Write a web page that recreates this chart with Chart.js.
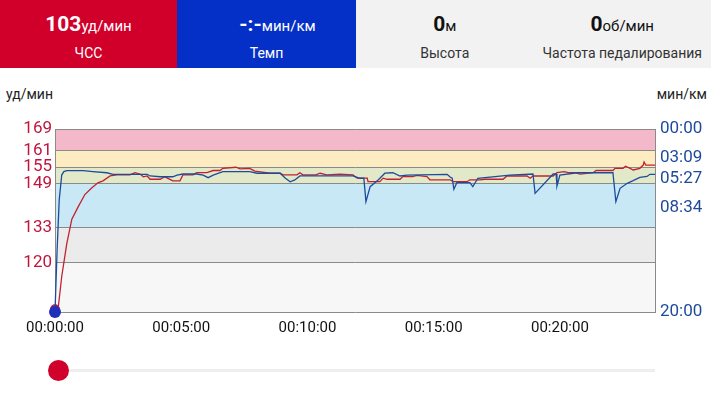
<!DOCTYPE html>
<html>
<head>
<meta charset="utf-8">
<script src="https://cdn.jsdelivr.net/npm/chart.js@4"></script>
<style>
  body { margin: 0; width: 711px; height: 400px; background: #fff; font-family: Roboto, "Noto Sans", sans-serif; position: relative; overflow: hidden; }
  .hdr { position: absolute; left: 0; top: 0; width: 711px; height: 68px; display: flex; }
  .cell { height: 68px; text-align: center; position: relative; }
  .cell .val { position: absolute; left: 0; right: 0; top: 11px; font-size: 21px; font-weight: bold; line-height: 26px; }
  .cell .val span { font-size: 15px; font-weight: normal; }
  .cell .lbl { position: absolute; left: 0; right: 0; top: 44px; font-size: 14px; line-height: 18px; }
  .red { width: 177px; background: #d0002b; color: #fff; }
  .blue { width: 179px; background: #0530c8; color: #fff; }
  .gray { width: 177.5px; background: #f2f2f2; color: #111; }
  .gray .lbl { color: #333; }
  .unit { position: absolute; top: 86px; font-size: 14px; color: #222; }
  #wrap { position: absolute; left: 0; top: 68px; width: 711px; height: 282px; }
  .track { position: absolute; left: 58px; top: 369px; width: 597px; height: 3px; background: #eeeeee; }
  .knob { position: absolute; left: 48px; top: 360px; width: 21px; height: 21px; border-radius: 50%; background: #d0022c; }
</style>
</head>
<body>
<div class="hdr">
  <div class="cell red"><div class="val">103<span>уд/мин</span></div><div class="lbl">ЧСС</div></div>
  <div class="cell blue"><div class="val" style="padding-left:22px">-:-<span>мин/км</span></div><div class="lbl">Темп</div></div>
  <div class="cell gray"><div class="val">0<span>м</span></div><div class="lbl">Высота</div></div>
  <div class="cell gray"><div class="val">0<span>об/мин</span></div><div class="lbl">Частота педалирования</div></div>
</div>
<div class="unit" style="left:6px">уд/мин</div>
<div class="unit" style="right:4px">мин/км</div>
<div id="wrap"><canvas id="c" width="711" height="282"></canvas></div>
<div class="track"></div>
<div class="knob"></div>
<script>
// --- данные ---
const hrTimes = [0, 8, 16, 28, 40, 55, 71, 87, 102, 114, 131, 147, 178, 190, 202, 210, 219, 226, 250, 261, 280, 297, 304, 328, 337, 361, 376, 392, 399, 430, 440, 463, 475, 511, 535, 542, 575, 582, 589, 620, 630, 646, 677, 708, 718, 742, 744, 772, 780, 789, 820, 827, 850, 860, 884, 891, 939, 946, 979, 986, 1010, 1022, 1065, 1074, 1122, 1129, 1136, 1184, 1193, 1210, 1220, 1236, 1248, 1279, 1286, 1326, 1331, 1350, 1356, 1367, 1374, 1390, 1398, 1400, 1404, 1426];
const hrValues = [103, 104, 115, 127, 136, 140.5, 145, 147.4, 149.3, 150, 151.8, 152.2, 152.2, 153, 152.5, 151.5, 151.8, 150.6, 150.6, 151.5, 150, 150, 152.2, 152.2, 153, 153, 153.8, 153.8, 154.6, 155, 154.4, 154.6, 153.6, 152.8, 152.8, 152.2, 152.2, 153, 152.2, 152.2, 152.8, 152.2, 152.5, 152.2, 151, 151, 149.7, 149.7, 151, 150.6, 150.6, 151.6, 151.6, 152, 151.6, 150.4, 150.4, 149.7, 149.7, 150.4, 150.4, 150.6, 150.6, 151.8, 151.8, 151, 151.8, 151.8, 153, 153.4, 153, 153, 152.5, 153, 153.8, 153.8, 154.6, 154.6, 155.4, 154.6, 154, 154.6, 155.8, 156.9, 155.8, 155.8];

const paceTimes = [0, 5, 10, 16, 21, 28, 67, 90, 123, 138, 219, 226, 250, 280, 290, 304, 337, 352, 364, 376, 399, 463, 480, 535, 547, 559, 570, 582, 708, 725, 734, 739, 749, 768, 784, 803, 820, 837, 932, 939, 944, 948, 955, 986, 993, 1005, 1081, 1136, 1141, 1184, 1191, 1193, 1200, 1241, 1326, 1333, 1343, 1360, 1374, 1390, 1407, 1414, 1426];
const paceValues = [1200, 793, 466, 302, 279, 273, 273, 279, 287, 297, 297, 308, 313, 313, 302, 295, 295, 302, 319, 302, 280, 280, 290, 290, 321, 346, 334, 308, 308, 323, 323, 476, 378, 334, 290, 287, 308, 302, 297, 315, 323, 395, 352, 352, 378, 323, 302, 295, 422, 295, 295, 374, 302, 287, 287, 476, 389, 356, 339, 317, 311, 297, 297];

const hrTicks = [169, 161, 155, 149, 133, 120];
const paceTicks = [0, 189, 327, 514, 1200];
const timeTicks = [0, 300, 600, 900, 1200];

// зоны пульса
const zoneEdges = [102, 120, 133, 149, 155, 161, 169];
const zoneColors = ['#f7f7f7', '#ebebeb', '#c9e8f6', '#e2e9c8', '#fdebc1', '#f3b9cb'];

const pad2 = n => String(n).padStart(2, '0');
const fmtTime = s => pad2(Math.floor(s / 3600)) + ':' + pad2(Math.floor(s / 60) % 60) + ':' + pad2(s % 60);
const fmtPace = s => pad2(Math.floor(s / 60)) + ':' + pad2(Math.round(s % 60));

const zonesPlugin = {
  id: 'zones',
  beforeDraw(chart) {
    const { ctx, chartArea: a, scales } = chart;
    const y = scales.yHr;
    ctx.save();
    for (let i = 0; i < zoneColors.length; i++) {
      const y1 = y.getPixelForValue(zoneEdges[i + 1]);
      const y2 = y.getPixelForValue(zoneEdges[i]);
      ctx.fillStyle = zoneColors[i];
      ctx.fillRect(a.left, y1, a.right - a.left, y2 - y1);
    }
    ctx.restore();
  }
};

const tickFont = { family: 'Roboto', size: 17 };

new Chart(document.getElementById('c'), {
  type: 'line',
  data: {
    datasets: [{
      label: 'Темп',
      data: paceTimes.map((t, i) => ({ x: t, y: paceValues[i] })),
      yAxisID: 'yPace',
      borderColor: '#1d4c9c',
      borderWidth: 1.3,
      pointRadius: ctx => ctx.dataIndex === 0 ? 6 : 0,
      pointBackgroundColor: '#2130b8',
      pointBorderWidth: 0,
      clip: 10,
    }, {
      label: 'ЧСС',
      data: hrTimes.map((t, i) => ({ x: t, y: hrValues[i] })),
      yAxisID: 'yHr',
      borderColor: '#c2222f',
      borderWidth: 1.3,
      pointRadius: ctx => ctx.dataIndex === 0 ? 5 : 0,
      pointBackgroundColor: '#a8205c',
      pointBorderWidth: 0,
      clip: 10,
    }]
  },
  options: {
    responsive: false,
    animation: false,
    layout: { padding: { top: 61, left: 0, right: 0, bottom: 0 } },
    plugins: { legend: { display: false }, tooltip: { enabled: false } },
    scales: {
      x: {
        type: 'linear',
        min: 0,
        max: 1426,
        afterBuildTicks: s => { s.ticks = timeTicks.map(v => ({ value: v })); },
        afterFit: s => { s.height = 38; },
        grid: { display: false, drawTicks: false },
        border: { display: true, color: '#8a8a8a' },
        ticks: { color: '#111', font: { family: 'Roboto', size: 15 }, padding: 7, maxRotation: 0, callback: v => fmtTime(v) }
      },
      yHr: {
        position: 'left',
        min: 102,
        max: 169,
        afterBuildTicks: s => { s.ticks = hrTicks.map(v => ({ value: v })); },
        afterFit: s => { s.width = 55; },
        grid: { color: '#8a8a8a', drawTicks: false },
        border: { display: true, color: '#8a8a8a' },
        ticks: { color: '#c0163e', font: tickFont, padding: 3 }
      },
      yPace: {
        position: 'right',
        reverse: true,
        min: 0,
        max: 1200,
        afterBuildTicks: s => { s.ticks = paceTicks.map(v => ({ value: v })); },
        afterFit: s => { s.width = 56; },
        grid: { display: false, drawTicks: false },
        border: { display: true, color: '#8a8a8a' },
        ticks: { color: '#1f4a9c', font: tickFont, padding: 5, callback: v => fmtPace(v) }
      }
    }
  },
  plugins: [zonesPlugin]
});
</script>
</body>
</html>
